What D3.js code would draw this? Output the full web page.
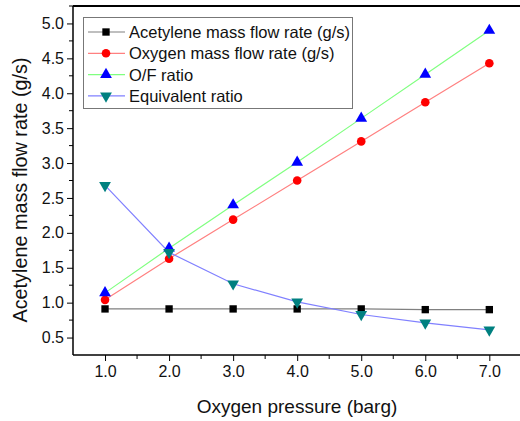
<!DOCTYPE html>
<html><head><meta charset="utf-8">
<script src="https://cdn.jsdelivr.net/npm/d3@7"></script>
<style>body{margin:0;background:#fff}svg{display:block}text{font-family:"Liberation Sans",Arial,sans-serif}</style>
</head><body><svg id="c" width="520" height="421"></svg>
<script>
const pressure = [1.0, 2.0, 3.0, 4.0, 5.0, 6.0, 7.0];
const acetylene = [0.91, 0.91, 0.91, 0.91, 0.91, 0.90, 0.90];
const oxygen = [1.04, 1.63, 2.19, 2.75, 3.31, 3.87, 4.43];
const ofRatio = [1.14, 1.78, 2.40, 3.01, 3.64, 4.27, 4.90];
const equivRatio = [2.68, 1.72, 1.27, 1.01, 0.83, 0.71, 0.61];
const xTicks = [1, 2, 3, 4, 5, 6, 7];
const yTicks = [0.5, 1.0, 1.5, 2.0, 2.5, 3.0, 3.5, 4.0, 4.5, 5.0];
const seriesNames = ["Acetylene mass flow rate (g/s)", "Oxygen mass flow rate (g/s)", "O/F ratio", "Equivalent ratio"];

const svg = d3.select("#c");
const L = 73, T = 6, B = 355;
const x = d3.scaleLinear().domain([0.5, 7.5]).range([L, L + 7 * 64.05]);
const y = d3.scaleLinear().domain([0.25, 5.25]).range([B, T]);

const series = [
  {name: seriesNames[0], v: acetylene, line: "#808080", fill: "#000000", sym: d3.symbolSquare, size: 54},
  {name: seriesNames[1], v: oxygen, line: "#ff8080", fill: "#ff0000", sym: d3.symbolCircle, size: 58},
  {name: seriesNames[2], v: ofRatio, line: "#80ff80", fill: "#0000ff", sym: d3.symbolTriangle, size: 60, rot: 0},
  {name: seriesNames[3], v: equivRatio, line: "#8080ff", fill: "#008080", sym: d3.symbolTriangle, size: 60, rot: 180}
];

// axes
const xAxis = d3.axisBottom(x).tickValues(xTicks).tickFormat(d3.format(".1f")).tickSize(6).tickPadding(5);
const gx = svg.append("g").attr("transform", `translate(0,${B})`).call(xAxis);
gx.select(".domain").remove();
svg.append("line").attr("x1", L).attr("x2", 520).attr("y1", B).attr("y2", B).attr("stroke", "#000").attr("stroke-width", 1.5);
const xMinor = d3.range(1.5, 7.6, 1);
svg.append("g").selectAll("line").data(xMinor).join("line")
  .attr("x1", d => x(d)).attr("x2", d => x(d)).attr("y1", B).attr("y2", B + 4).attr("stroke", "#000");

const yAxis = d3.axisLeft(y).tickValues(yTicks).tickFormat(d3.format(".1f")).tickSize(6).tickPadding(3);
const gy = svg.append("g").attr("transform", `translate(${L},0)`).call(yAxis);
gy.select(".domain").remove();
const yMinor = d3.range(0.75, 5.3, 0.5);
svg.append("g").selectAll("line").data(yMinor).join("line")
  .attr("x1", L - 4).attr("x2", L).attr("y1", d => y(d)).attr("y2", d => y(d)).attr("stroke", "#000");
svg.append("line").attr("x1", L).attr("x2", L).attr("y1", T).attr("y2", B).attr("stroke", "#000").attr("stroke-width", 1.5);
svg.append("line").attr("x1", L).attr("x2", 520).attr("y1", T).attr("y2", T).attr("stroke", "#000").attr("stroke-width", 2);

svg.selectAll(".tick text").attr("font-size", 16).attr("fill", "#111").style("font-family", '"Liberation Sans",Arial,sans-serif');
svg.selectAll(".tick line").attr("stroke", "#000");

// lines + markers
series.forEach(s => {
  const pts = pressure.map((p, i) => [p, s.v[i]]);
  svg.append("path").datum(pts)
    .attr("d", d3.line().x(d => x(d[0])).y(d => y(d[1])))
    .attr("fill", "none").attr("stroke", s.line).attr("stroke-width", 1.2);
});
series.forEach(s => {
  const pts = pressure.map((p, i) => [p, s.v[i]]);
  svg.append("g").selectAll("path").data(pts).join("path")
    .attr("d", d3.symbol().type(s.sym).size(s.size))
    .attr("transform", d => `translate(${x(d[0])},${y(d[1])})` + (s.rot ? ` rotate(${s.rot})` : ""))
    .attr("fill", s.fill);
});

// legend
const lg = svg.append("g");
lg.append("rect").attr("x", 83.5).attr("y", 17.5).attr("width", 269).attr("height", 91)
  .attr("fill", "#fff").attr("stroke", "#777").attr("stroke-width", 1);
series.forEach((s, i) => {
  const cy = 32 + i * 21.3;
  lg.append("line").attr("x1", 88).attr("x2", 125).attr("y1", cy).attr("y2", cy).attr("stroke", s.line).attr("stroke-width", 1.2);
  lg.append("path").attr("d", d3.symbol().type(s.sym).size(s.size)())
    .attr("transform", `translate(106,${cy})` + (s.rot ? ` rotate(${s.rot})` : "")).attr("fill", s.fill);
  lg.append("text").attr("x", 129).attr("y", cy + 6).attr("font-size", 16.5).attr("fill", "#111").text(s.name);
});

// titles
svg.append("text").attr("x", 297).attr("y", 413).attr("text-anchor", "middle").attr("font-size", 19).attr("fill", "#111").text("Oxygen pressure (barg)");
svg.append("text").attr("transform", "translate(27,190) rotate(-90)").attr("text-anchor", "middle").attr("font-size", 19.8).attr("fill", "#111").text("Acetylene mass flow rate (g/s)");
</script></body></html>
